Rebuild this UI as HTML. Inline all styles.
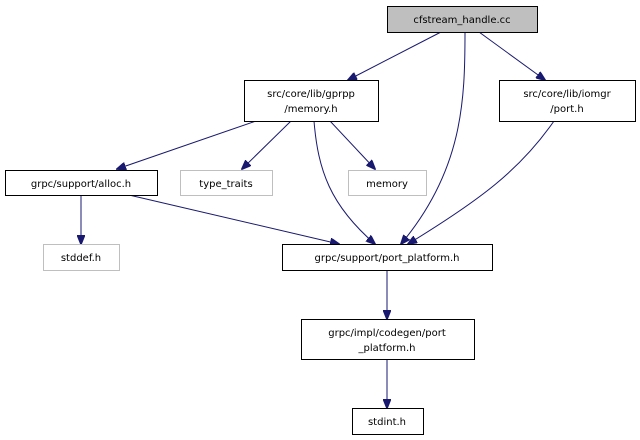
<!DOCTYPE html>
<html><head><meta charset="utf-8"><style>
html,body{margin:0;padding:0;background:#fff;width:640px;height:440px;overflow:hidden}
text{font-family:"DejaVu Sans","Liberation Sans",sans-serif;font-size:10px;text-anchor:middle}
</style></head><body>
<svg width="640" height="440" viewBox="0 0 640 440" xmlns="http://www.w3.org/2000/svg">
<defs><marker id="a" markerWidth="10" markerHeight="8" refX="9" refY="4" orient="auto" markerUnits="userSpaceOnUse">
<path d="M0,0 L10,4 L0,8 z" fill="#191970" stroke="#191970"/></marker></defs>
<g fill="none" stroke="#191970" stroke-width="1" marker-end="url(#a)">
<path d="M441,32 L348,80"/>
<path d="M465,32 C465,100 463,170 401,244"/>
<path d="M479,32 L545,80"/>
<path d="M256,121 L117,169"/>
<path d="M291,121 L242,169"/>
<path d="M330,121 L375,169"/>
<path d="M314,121 C318,170 330,205 375,244"/>
<path d="M554,121 C520,170 480,200 408,244"/>
<path d="M129,195 L339,244"/>
<path d="M81,195 L81,244"/>
<path d="M387,270 L387,319"/>
<path d="M387,359 L387,408"/>
</g>
<g stroke-width="1">
<rect x="387.5" y="6.5" width="150" height="26" fill="#bfbfbf" stroke="#000"/>
<rect x="244.5" y="80.5" width="134" height="41" fill="#fff" stroke="#000"/>
<rect x="499.5" y="80.5" width="136" height="41" fill="#fff" stroke="#000"/>
<rect x="5.5" y="170.5" width="152" height="25" fill="#fff" stroke="#000"/>
<rect x="180.5" y="170.5" width="92" height="25" fill="#fff" stroke="#bfbfbf"/>
<rect x="348.5" y="170.5" width="78" height="25" fill="#fff" stroke="#bfbfbf"/>
<rect x="43.5" y="244.5" width="76" height="26" fill="#fff" stroke="#bfbfbf"/>
<rect x="282.5" y="244.5" width="210" height="26" fill="#fff" stroke="#000"/>
<rect x="301.5" y="319.5" width="173" height="40" fill="#fff" stroke="#000"/>
<rect x="352.5" y="408.5" width="71" height="26" fill="#fff" stroke="#000"/>
</g>
<g fill="#000">
<text x="462" y="23">cfstream_handle.cc</text>
<text x="311" y="97">src/core/lib/gprpp</text>
<text x="311" y="112">/memory.h</text>
<text x="567" y="97">src/core/lib/iomgr</text>
<text x="567" y="112">/port.h</text>
<text x="81" y="187">grpc/support/alloc.h</text>
<text x="226" y="187">type_traits</text>
<text x="387" y="187">memory</text>
<text x="81" y="261">stddef.h</text>
<text x="387" y="261">grpc/support/port_platform.h</text>
<text x="387" y="336">grpc/impl/codegen/port</text>
<text x="387" y="351">_platform.h</text>
<text x="387" y="425">stdint.h</text>
</g>
</svg>
</body></html>
